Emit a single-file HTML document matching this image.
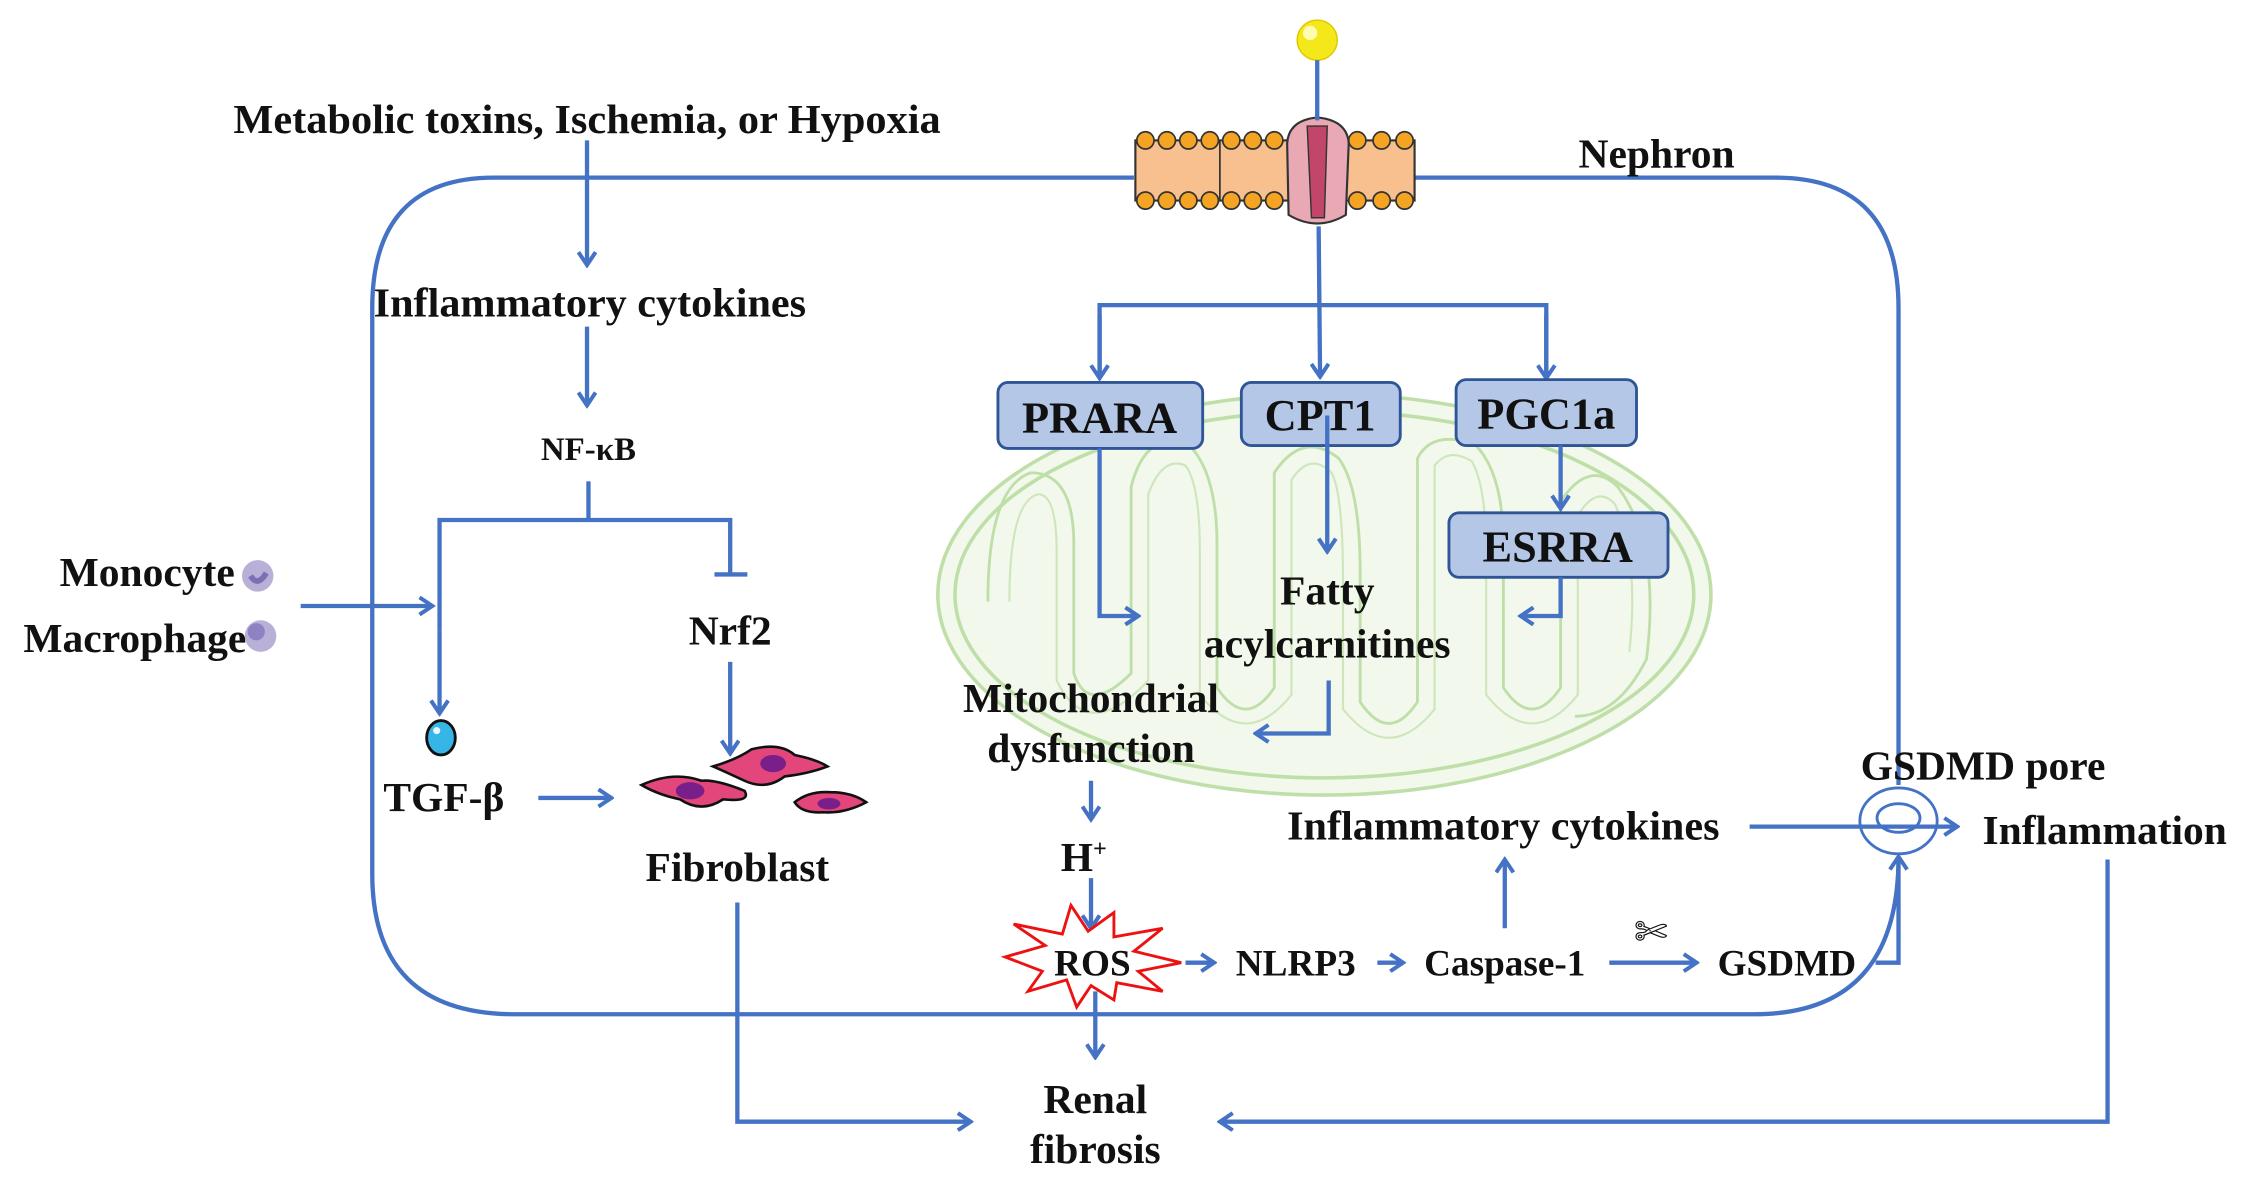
<!DOCTYPE html>
<html><head><meta charset="utf-8"><style>
html,body{margin:0;padding:0;background:#fff;}
svg{display:block;}
text{font-family:"Liberation Serif",serif;font-weight:bold;fill:#111;}
</style></head><body>
<svg width="2245" height="1179" viewBox="0 0 1568 823" preserveAspectRatio="none" xmlns="http://www.w3.org/2000/svg">
<defs>
<marker id="a" viewBox="0 0 14 14" refX="12" refY="7" markerWidth="14" markerHeight="14" markerUnits="userSpaceOnUse" orient="auto">
<polyline points="3,1 12,7 3,13" fill="none" stroke="#4472c4" stroke-width="2.8"/>
</marker>
</defs>
<g fill="none" stroke="#4472c4" stroke-width="3">
<path d="M792,124 H345 Q260,124 260,215 V610 Q260,708 360,708 H1225 Q1326,708 1326,598"/>
<path d="M988,124 H1240 Q1326,124 1326,215 V548"/>
</g>
<g fill="none" stroke="#b9dca0" stroke-width="2.5" opacity="0.9">
<ellipse cx="925" cy="415" rx="270" ry="140" fill="#f1f8ea"/>
<ellipse cx="925" cy="415" rx="258" ry="128"/>
<path d="M690,420 Q690,340 720,330 Q750,330 750,380 V470 Q760,500 790,470 V340 Q800,300 830,310 Q850,330 850,380 V480 Q870,510 890,480 V330 Q910,300 935,320 Q950,340 950,400 V490 Q970,520 990,490 V320 Q1000,300 1030,310 Q1050,330 1050,380 V480 Q1070,510 1090,480 V350 Q1110,320 1130,340 Q1160,380 1150,460 Q1130,500 1100,500" stroke-width="2"/>
<path d="M705,420 Q705,350 725,345 Q738,345 738,385 V475 Q760,520 802,475 V345 Q812,318 828,325 Q838,338 838,385 V485 Q870,525 902,485 V335 Q915,315 930,330 Q938,345 938,405 V495 Q970,535 1002,495 V325 Q1012,312 1028,322 Q1038,340 1038,385 V485 Q1070,525 1102,485 V360 Q1115,338 1128,352 Q1145,390 1138,455" stroke-width="1.5" opacity="0.7"/>
</g>
<g>
<rect x="793" y="98" width="195" height="42" fill="#f9c08f" stroke="#333" stroke-width="1.5"/>
<g fill="#f4a422" stroke="#333" stroke-width="1.2">
<circle cx="800" cy="98" r="6"/><circle cx="815" cy="98" r="6"/><circle cx="830" cy="98" r="6"/><circle cx="845" cy="98" r="6"/><circle cx="860" cy="98" r="6"/><circle cx="875" cy="98" r="6"/><circle cx="890" cy="98" r="6"/><circle cx="948" cy="98" r="6"/><circle cx="965" cy="98" r="6"/><circle cx="981" cy="98" r="6"/>
<circle cx="800" cy="140" r="6"/><circle cx="815" cy="140" r="6"/><circle cx="830" cy="140" r="6"/><circle cx="845" cy="140" r="6"/><circle cx="860" cy="140" r="6"/><circle cx="875" cy="140" r="6"/><circle cx="890" cy="140" r="6"/><circle cx="948" cy="140" r="6"/><circle cx="965" cy="140" r="6"/><circle cx="981" cy="140" r="6"/>
</g>
<line x1="852" y1="98" x2="852" y2="140" stroke="#333" stroke-width="1.2"/>
<path d="M899,100 Q900,84 920,82 Q941,84 942,100 L940,150 Q920,162 900,150 Z" fill="#e8a9b4" stroke="#333" stroke-width="1.5"/>
<path d="M913,88 L927,88 L925,152 L916,152 Z" fill="#c2456a" stroke="#333" stroke-width="1"/>
</g>
<circle cx="920" cy="28" r="14" fill="#f5e81a" stroke="#e0c800" stroke-width="1"/>
<circle cx="915" cy="23" r="5" fill="#fffbb0"/>
<g fill="none" stroke="#4472c4" stroke-width="3">
<line x1="920" y1="42" x2="920" y2="84"/>
<line x1="921" y1="158" x2="922" y2="263" marker-end="url(#a)"/>
<polyline points="768,263 768,213 1080,213 1080,263"/>
<line x1="768" y1="220" x2="768" y2="264" marker-end="url(#a)"/>
<line x1="1080" y1="220" x2="1080" y2="264" marker-end="url(#a)"/>
</g>
<g fill="#b4c7e7" stroke="#2f5597" stroke-width="2">
<rect x="697" y="267" width="143" height="46" rx="7"/>
<rect x="867" y="267" width="111" height="44" rx="7"/>
<rect x="1017" y="265" width="126" height="46" rx="7"/>
<rect x="1012" y="358" width="153" height="45" rx="7"/>
</g>
<g font-size="31" text-anchor="middle">
<text x="768" y="302">PRARA</text>
<text x="922" y="300">CPT1</text>
<text x="1080" y="299">PGC1a</text>
<text x="1088" y="392">ESRRA</text>
</g>
<g fill="none" stroke="#4472c4" stroke-width="3">
<line x1="927" y1="290" x2="927" y2="385" marker-end="url(#a)"/>
<polyline points="768,313 768,430 795,430" marker-end="url(#a)"/>
<line x1="1090" y1="311" x2="1090" y2="355" marker-end="url(#a)"/>
<polyline points="1090,403 1090,430 1062,430" marker-end="url(#a)"/>
<polyline points="928,475 928,512 877,512" marker-end="url(#a)"/>
<line x1="762" y1="545" x2="762" y2="572" marker-end="url(#a)"/>
<line x1="762" y1="613" x2="762" y2="648" marker-end="url(#a)"/>
<line x1="765" y1="692" x2="765" y2="738" marker-end="url(#a)"/>
<line x1="828" y1="672" x2="848" y2="672" marker-end="url(#a)"/>
<line x1="962" y1="672" x2="980" y2="672" marker-end="url(#a)"/>
<line x1="1124" y1="672" x2="1185" y2="672" marker-end="url(#a)"/>
<line x1="1051" y1="648" x2="1051" y2="600" marker-end="url(#a)"/>
<polyline points="1310,672 1326,672 1326,598" marker-end="url(#a)"/>
<line x1="1222" y1="577" x2="1367" y2="577" marker-end="url(#a)"/>
<ellipse cx="1326" cy="573" rx="27" ry="23" stroke-width="2"/>
<ellipse cx="1326" cy="571" rx="15" ry="10" stroke-width="2"/>
<polyline points="1472,600 1472,783 852,783" marker-end="url(#a)"/>
<polyline points="515,630 515,783 678,783" marker-end="url(#a)"/>
<line x1="410" y1="98" x2="410" y2="185" marker-end="url(#a)"/>
<line x1="410" y1="228" x2="410" y2="283" marker-end="url(#a)"/>
<line x1="411" y1="336" x2="411" y2="363"/>
<polyline points="307,440 307,363 510,363 510,400"/>
<line x1="307" y1="440" x2="307" y2="498" marker-end="url(#a)"/>
<line x1="499" y1="401" x2="522" y2="401"/>
<line x1="510" y1="462" x2="510" y2="526" marker-end="url(#a)"/>
<line x1="210" y1="423" x2="302" y2="423" marker-end="url(#a)"/>
<line x1="376" y1="557" x2="427" y2="557" marker-end="url(#a)"/>
</g>
<polygon points="702,668 730,660 708,645 742,652 748,632 760,650 778,637 778,654 812,648 792,664 825,672 795,678 812,692 780,686 778,698 762,688 752,703 745,684 718,692 728,678" fill="#fff" stroke="#ee1111" stroke-width="2"/>
<ellipse cx="308" cy="515" rx="10" ry="12" fill="#35b6e6" stroke="#111" stroke-width="2"/>
<circle cx="305" cy="510" r="2.5" fill="#e7f8ff"/>
<circle cx="180" cy="402" r="11" fill="#b9b0d8"/><path d="M175,402 Q180,410 186,400" stroke="#7d6fb5" stroke-width="4" fill="none"/>
<circle cx="182" cy="444" r="11" fill="#b9b0d8"/><circle cx="179" cy="441" r="6" fill="#8e82c2"/>
<g stroke="#111" stroke-width="1.8" fill="#e2467a">
<path d="M448,548 Q470,538 490,545 Q500,544 520,552 Q525,560 505,558 Q490,568 475,558 Q460,555 448,548 Z"/>
<path d="M498,535 Q515,530 525,523 Q545,518 555,527 Q570,530 578,535 Q565,540 548,542 Q535,552 520,545 Q505,538 498,535 Z"/>
<path d="M555,560 Q565,552 580,553 Q595,553 605,560 Q590,568 575,567 Q560,568 555,560 Z"/>
</g>
<g fill="#7a1f8a"><ellipse cx="482" cy="552" rx="10" ry="6"/><ellipse cx="540" cy="533" rx="9" ry="6"/><ellipse cx="579" cy="561" rx="8" ry="4"/></g>
<text x="1153" y="660" font-size="28" text-anchor="middle" style="font-family:'DejaVu Sans',sans-serif;font-weight:normal">✄</text>
<g font-size="29" text-anchor="middle">
<text x="410" y="93" textLength="494" lengthAdjust="spacingAndGlyphs">Metabolic toxins, Ischemia, or Hypoxia</text>
<text x="1157" y="117">Nephron</text>
<text x="412" y="221" textLength="302" lengthAdjust="spacingAndGlyphs">Inflammatory cytokines</text>
<text x="411" y="321" font-size="23">NF-κB</text>
<text x="510" y="450">Nrf2</text>
<text x="310" y="566">TGF-β</text>
<text x="515" y="615">Fibroblast</text>
<text x="927" y="422">Fatty</text>
<text x="927" y="459">acylcarnitines</text>
<text x="762" y="497">Mitochondrial</text>
<text x="762" y="532">dysfunction</text>
<text x="757" y="608">H<tspan font-size="17" dy="-10">+</tspan></text>
<text x="763" y="681" font-size="26">ROS</text>
<text x="905" y="681" font-size="26">NLRP3</text>
<text x="1051" y="681" font-size="26">Caspase-1</text>
<text x="1248" y="681" font-size="26">GSDMD</text>
<text x="1050" y="586" textLength="302" lengthAdjust="spacingAndGlyphs">Inflammatory cytokines</text>
<text x="1385" y="544">GSDMD pore</text>
<text x="1470" y="589">Inflammation</text>
<text x="765" y="777">Renal</text>
<text x="765" y="812">fibrosis</text>
</g>
<g font-size="29" text-anchor="end">
<text x="164" y="409">Monocyte</text>
<text x="172" y="455">Macrophage</text>
</g>
</svg>
</body></html>
